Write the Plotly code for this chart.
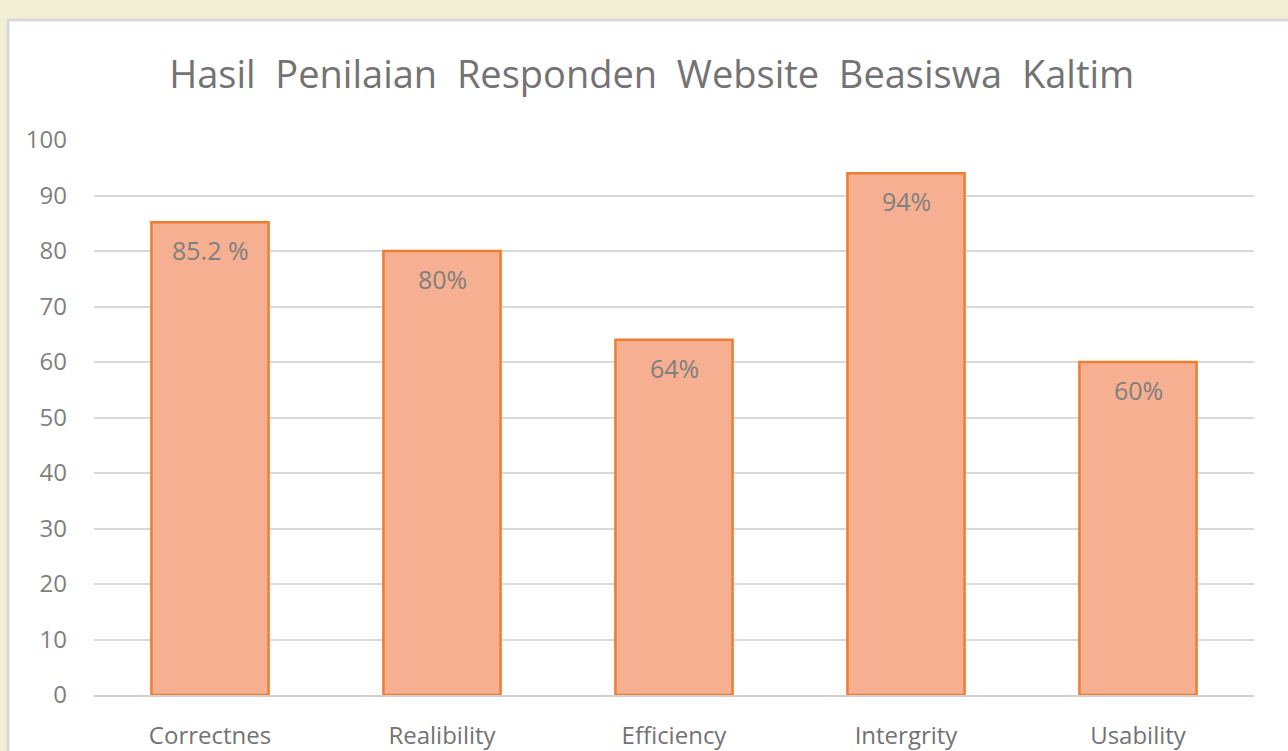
import plotly.graph_objects as go

categories = ["Correctnes", "Realibility", "Efficiency", "Intergrity", "Usability"]
values = [85.2, 80, 64, 94, 60]
labels = ["85.2 %", "80%", "64%", "94%", "60%"]
y_ticks = [0, 10, 20, 30, 40, 50, 60, 70, 80, 90, 100]
title_text = "Hasil Penilaian Responden Website Beasiswa Kaltim"

FONT = "'Open Sans', sans-serif"

fig = go.Figure()
fig.add_trace(go.Bar(
    x=categories, y=values,
    marker=dict(color="#f6b091", line=dict(color="#ed7d31", width=2.5)),
    hoverinfo="skip",
))

for c, v, t in zip(categories, values, labels):
    fig.add_annotation(x=c, y=v, text=t, showarrow=False, yshift=-28,
                       font=dict(family=FONT, size=25, color="#7f7f7f"))

fig.add_shape(type="rect", xref="paper", yref="paper",
              x0=-0.0741, y0=-0.3, x1=1.2, y1=1.2162,
              fillcolor="white", line=dict(color="#d9d9d9", width=3), layer="below")

fig.update_layout(
    width=1288, height=751,
    paper_bgcolor="#f3efd7", plot_bgcolor="white",
    margin=dict(l=94, r=34, t=140, b=56),
    bargap=0.495,
    showlegend=False,
    title=dict(text=title_text.replace(" ", " \u00a0"),
               x=0.506, xanchor="center", y=0.9, yanchor="middle",
               xref="container", yref="container",
               font=dict(family=FONT, size=38, color="#737373")),
    xaxis=dict(showgrid=False, showline=True, linecolor="#d0d0d0", linewidth=2,
               ticks="", tickfont=dict(family=FONT, size=24, color="#737373"),
               ticklabelstandoff=18, automargin=False),
    yaxis=dict(range=[0, 100], tickvals=y_ticks, showgrid=True,
               gridcolor="#d9d9d9", gridwidth=2, zeroline=False,
               tickfont=dict(family=FONT, size=24, color="#7f7f7f"),
               ticklabelstandoff=26, automargin=False),
)

fig.write_html("out.html", config={"displayModeBar": False},
               post_script="document.body.style.margin='0';document.body.style.padding='0';")
